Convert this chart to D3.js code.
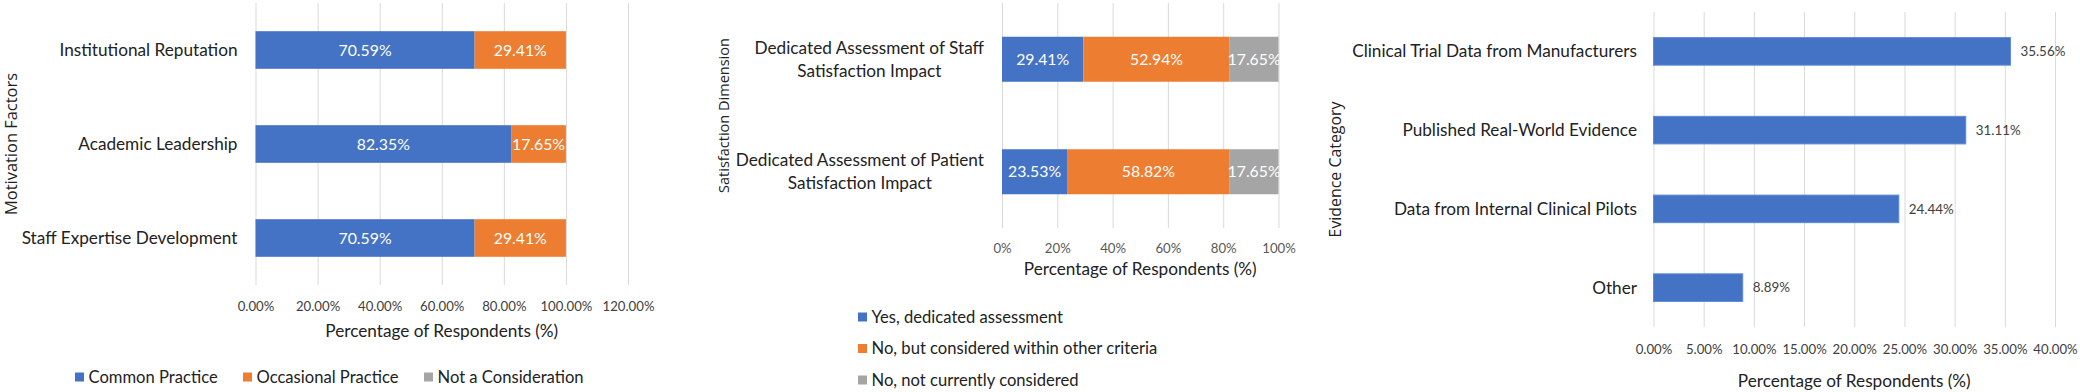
<!DOCTYPE html>
<html>
<head>
<meta charset="utf-8">
<script src="https://cdn.jsdelivr.net/npm/d3@7"></script>
<style>
  body { margin: 0; background: #fff; }
  svg { display: block; }
  text { font-family: Lato, "Open Sans", sans-serif; }
  text.ytitle { font-family: "Open Sans", sans-serif; fill: #222; }
</style>
</head>
<body>
<svg id="chart" width="2080" height="392"></svg>
<script>
// ---- data ----
const motivationCategories = ['Institutional Reputation', 'Academic Leadership', 'Staff Expertise Development']
const motivationSeries = ['Common Practice', 'Occasional Practice', 'Not a Consideration']
const commonPractice = [70.59, 82.35, 70.59]
const occasionalPractice = [29.41, 17.65, 29.41]
const notConsideration = [0, 0, 0]
const motivationTicks = [0, 20, 40, 60, 80, 100, 120]

const satisfactionCategories = [
  ['Dedicated Assessment of Staff', 'Satisfaction Impact'],
  ['Dedicated Assessment of Patient', 'Satisfaction Impact']
]
const satisfactionSeries = ['Yes, dedicated assessment', 'No, but considered within other criteria', 'No, not currently considered']
const yesDedicated = [29.41, 23.53]
const noButConsidered = [52.94, 58.82]
const notConsidered = [17.65, 17.65]
const satisfactionTicks = [0, 20, 40, 60, 80, 100]

const evidenceCategories = ['Clinical Trial Data from Manufacturers', 'Published Real-World Evidence', 'Data from Internal Clinical Pilots', 'Other']
const evidenceValues = [35.56, 31.11, 24.44, 8.89]
const evidenceTicks = [0, 5, 10, 15, 20, 25, 30, 35, 40]

const colors = ['#4472C4', '#ED7D31', '#A5A5A5']
const gridColor = '#d9d9d9'
const labelSize = '17.2px'

let svg = d3.select('#chart')

// shrink/grow a text's font so it spans roughly the width seen in the original
function fitWidth(sel, target) {
  let node = sel.node()
  let size = parseFloat(sel.style('font-size'))
  let w = node.getComputedTextLength()
  if (w > 0) sel.style('font-size', (size * target / w).toFixed(2) + 'px')
}

// builds the shared bits of a horizontal bar panel: scales, grid, tick labels, titles
function makePanel(opt) {
  let g = svg.append('g')

  let x = d3.scaleLinear().domain(opt.domain).range([opt.left, opt.right])
  let y = d3.scaleBand()
    .domain(d3.range(opt.categories.length))
    .range([opt.top, opt.bottom])
    .paddingInner(opt.pad)
    .paddingOuter(opt.pad / 2)

  let axis = d3.axisBottom(x)
    .tickValues(opt.ticks)
    .tickSize(-(opt.bottom - opt.top))
    .tickFormat(opt.fmt)

  let ax = g.append('g')
    .attr('transform', `translate(0,${opt.bottom})`)
    .call(axis)
  ax.select('.domain').remove()
  ax.selectAll('.tick line').attr('stroke', gridColor).attr('stroke-width', 1)
  ax.selectAll('.tick text')
    .attr('y', opt.tickGap)
    .attr('dy', '0.35em')
    .attr('fill', opt.tickColor)
    .style('font-size', '13.2px')
    .style('font-family', 'Lato, sans-serif')

  // x axis title
  let xt = g.append('text')
    .attr('x', (opt.left + opt.right) / 2)
    .attr('y', opt.titleY)
    .attr('dy', '0.35em')
    .attr('text-anchor', 'middle')
    .attr('fill', '#222')
    .style('font-size', '17px')
    .text('Percentage of Respondents (%)')
  fitWidth(xt, 233)

  // y axis title
  let yt = g.append('text')
    .attr('class', 'ytitle')
    .attr('transform', `translate(${opt.yTitleX},${(opt.top + opt.bottom) / 2}) rotate(-90)`)
    .attr('dy', '0.35em')
    .attr('text-anchor', 'middle')
    .style('font-size', '15px')
    .text(opt.yTitle)
  fitWidth(yt, opt.yTitleWidth)

  // clip so labels that overflow the last segment get cut at the plot edge
  let clipId = 'clip' + Math.round(opt.left)
  g.append('clipPath').attr('id', clipId)
    .append('rect')
    .attr('x', opt.left).attr('y', opt.top)
    .attr('width', opt.right - opt.left + 1)
    .attr('height', opt.bottom - opt.top)

  return {g: g, x: x, y: y, clipId: clipId}
}

function stackedBars(p, rows, keys) {
  let stack = d3.stack().keys(keys)(rows)

  let layers = p.g.append('g')
    .selectAll('g')
    .data(stack)
    .enter()
    .append('g')
    .attr('fill', (d, i) => colors[i])

  layers.selectAll('rect')
    .data(d => d)
    .enter()
    .append('rect')
    .attr('x', d => p.x(d[0]))
    .attr('y', (d, i) => p.y(i))
    .attr('width', d => p.x(d[1]) - p.x(d[0]))
    .attr('height', p.y.bandwidth())

  let labels = p.g.append('g').attr('clip-path', `url(#${p.clipId})`)
  stack.forEach(layer => {
    labels.selectAll(null)
      .data(layer.filter(d => d[1] - d[0] > 0))
      .enter()
      .append('text')
      .attr('x', d => (p.x(d[0]) + p.x(d[1])) / 2)
      .attr('y', d => p.y(d.data.idx) + p.y.bandwidth() / 2)
      .attr('dy', '0.35em')
      .attr('text-anchor', 'middle')
      .attr('fill', '#fff')
      .style('font-size', '15.8px')
      .text(d => (d[1] - d[0]).toFixed(2) + '%')
  })
}

function legendItems(g, series, pos, size) {
  let items = g.append('g').selectAll('g')
    .data(series)
    .enter()
    .append('g')
    .attr('transform', (d, i) => `translate(${pos(i)})`)
  items.append('rect').attr('x', 0).attr('y', -4.5).attr('width', 9).attr('height', 9)
    .attr('fill', (d, i) => colors[i])
  items.append('text').attr('x', 13.5).attr('dy', '0.35em')
    .attr('fill', '#222').style('font-size', size)
    .text(d => d)
}

// ---- panel 1: motivation factors ----
let p1 = makePanel({
  categories: motivationCategories,
  domain: [0, 120], ticks: motivationTicks, fmt: d => d.toFixed(2) + '%',
  left: 255.5, right: 628, top: 3, bottom: 285, pad: 0.6,
  tickGap: 21, tickColor: '#404040', titleY: 331,
  yTitle: 'Motivation Factors', yTitleX: 11.5, yTitleWidth: 142
})

let motivationRows = motivationCategories.map((c, i) => ({
  idx: i,
  'Common Practice': commonPractice[i],
  'Occasional Practice': occasionalPractice[i],
  'Not a Consideration': notConsideration[i]
}))
stackedBars(p1, motivationRows, motivationSeries)

p1.g.append('g').selectAll('text')
  .data(motivationCategories)
  .enter()
  .append('text')
  .attr('x', 237.5)
  .attr('y', (d, i) => p1.y(i) + p1.y.bandwidth() / 2)
  .attr('dy', '0.35em')
  .attr('text-anchor', 'end')
  .attr('fill', '#222')
  .style('font-size', labelSize)
  .text(d => d)

let legend1X = [75, 243, 424]
legendItems(p1.g, motivationSeries, i => legend1X[i] + ',377', '16.6px')

// ---- panel 2: satisfaction dimension ----
let p2 = makePanel({
  categories: satisfactionCategories,
  domain: [0, 100], ticks: satisfactionTicks, fmt: d => d + '%',
  left: 1002, right: 1278.5, top: 3, bottom: 228, pad: 0.6,
  tickGap: 20, tickColor: '#595959', titleY: 269,
  yTitle: 'Satisfaction Dimension', yTitleX: 724, yTitleWidth: 155
})

let satisfactionRows = satisfactionCategories.map((c, i) => ({
  idx: i,
  'Yes, dedicated assessment': yesDedicated[i],
  'No, but considered within other criteria': noButConsidered[i],
  'No, not currently considered': notConsidered[i]
}))
stackedBars(p2, satisfactionRows, satisfactionSeries)

// two-line labels, centred lines, block right-aligned to the axis
satisfactionCategories.forEach((lines, i) => {
  let cy = p2.y(i) + p2.y.bandwidth() / 2
  let t = p2.g.append('text')
    .attr('text-anchor', 'middle')
    .attr('fill', '#222')
    .style('font-size', labelSize)
  let spans = t.selectAll('tspan')
    .data(lines)
    .enter()
    .append('tspan')
    .attr('y', (d, j) => cy + (j - (lines.length - 1) / 2) * 23)
    .attr('dy', '0.35em')
    .text(d => d)
  let w = d3.max(spans.nodes(), n => n.getComputedTextLength())
  spans.attr('x', 984 - w / 2)
})

legendItems(p2.g, satisfactionSeries, i => '858,' + (317 + i * 31.5), '16.6px')

// ---- panel 3: evidence category ----
let p3 = makePanel({
  categories: evidenceCategories,
  domain: [0, 40], ticks: evidenceTicks, fmt: d => d.toFixed(2) + '%',
  left: 1653.5, right: 2055, top: 12, bottom: 327, pad: 0.65,
  tickGap: 22, tickColor: '#404040', titleY: 381,
  yTitle: 'Evidence Category', yTitleX: 1335, yTitleWidth: 136
})

p3.g.append('g').selectAll('rect')
  .data(evidenceValues)
  .enter()
  .append('rect')
  .attr('x', p3.x(0))
  .attr('y', (d, i) => p3.y(i))
  .attr('width', d => p3.x(d) - p3.x(0))
  .attr('height', p3.y.bandwidth())
  .attr('fill', colors[0])
  .attr('stroke', '#5b8ad8')
  .attr('stroke-width', 1)

p3.g.append('g').selectAll('text')
  .data(evidenceValues)
  .enter()
  .append('text')
  .attr('x', d => p3.x(d) + 10)
  .attr('y', (d, i) => p3.y(i) + p3.y.bandwidth() / 2)
  .attr('dy', '0.35em')
  .attr('fill', '#404040')
  .style('font-size', '13.4px')
  .text(d => d.toFixed(2) + '%')

p3.g.append('g').selectAll('text')
  .data(evidenceCategories)
  .enter()
  .append('text')
  .attr('x', 1637)
  .attr('y', (d, i) => p3.y(i) + p3.y.bandwidth() / 2)
  .attr('dy', '0.35em')
  .attr('text-anchor', 'end')
  .attr('fill', '#222')
  .style('font-size', labelSize)
  .text(d => d)
</script>
</body>
</html>
